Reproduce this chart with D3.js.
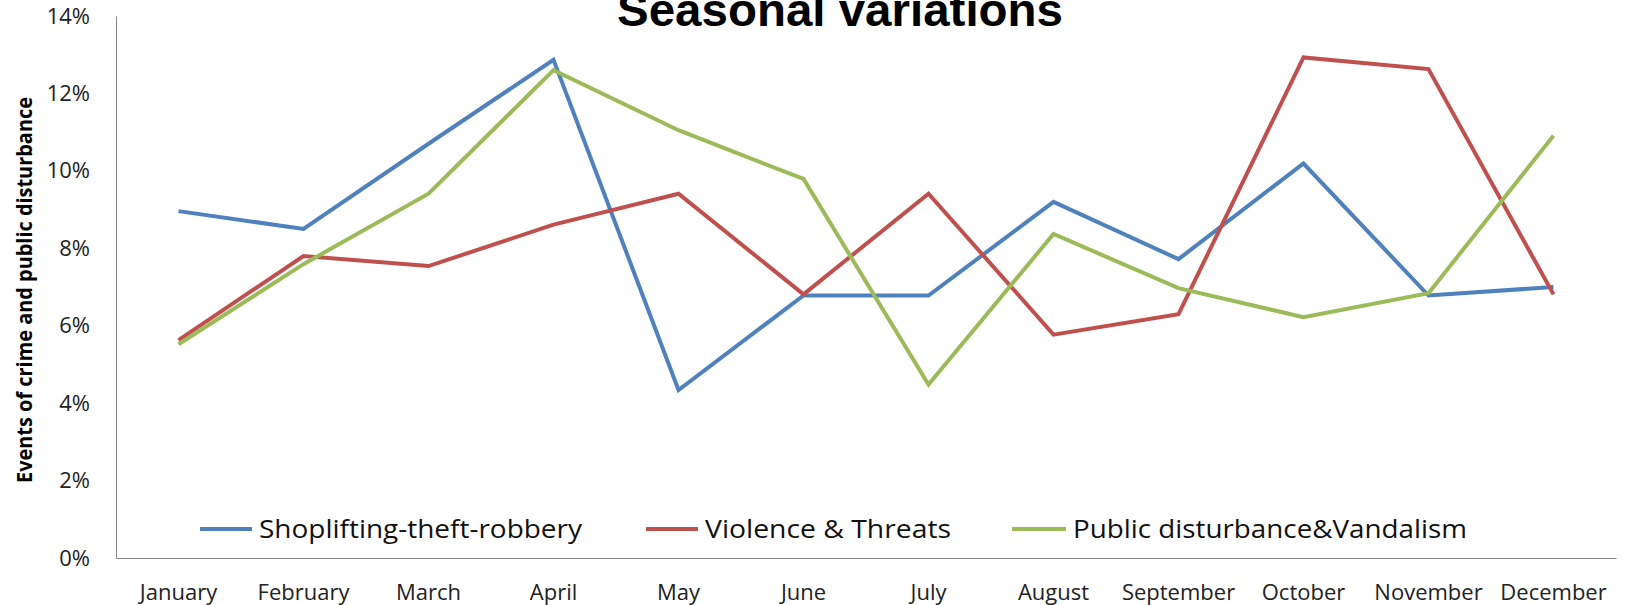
<!DOCTYPE html>
<html>
<head>
<meta charset="utf-8">
<script src="https://cdn.jsdelivr.net/npm/d3@7/dist/d3.min.js"></script>
<style>
  html, body { margin: 0; padding: 0; background: #fff; }
  svg { display: block; }
</style>
</head>
<body>
<svg id="chart" width="1629" height="605"></svg>
<script>
// Monthly share of incidents per category
const months = ["January", "February", "March", "April", "May", "June",
                "July", "August", "September", "October", "November", "December"];
const shoplifting = [0.0896, 0.0850, 0.1070, 0.1287, 0.0434, 0.0678,
                     0.0678, 0.0920, 0.0772, 0.1019, 0.0678, 0.0700];
const violence    = [0.0563, 0.0780, 0.0754, 0.0861, 0.0941, 0.0681,
                     0.0941, 0.0577, 0.0630, 0.1293, 0.1263, 0.0681];
const disturbance = [0.0552, 0.0759, 0.0941, 0.1260, 0.1105, 0.0979,
                     0.0448, 0.0837, 0.0697, 0.0622, 0.0684, 0.1091];
const seriesNames = ["Shoplifting-theft-robbery", "Violence & Threats", "Public disturbance&Vandalism"];
const seriesColors = ["#4F81BD", "#C0504D", "#9BBB59"];
const yTicks = [0, 0.02, 0.04, 0.06, 0.08, 0.10, 0.12, 0.14];

const series = [shoplifting, violence, disturbance].map((values, i) => ({
  name: seriesNames[i], color: seriesColors[i], values
}));

const svg = d3.select("#chart");
const plot = { left: 116, right: 1616, top: 16, bottom: 558 };

const x = d3.scaleBand().domain(months).range([plot.left, plot.right]).padding(0);
const y = d3.scaleLinear().domain([0, 0.14]).range([plot.bottom, plot.top]);
const cx = m => x(m) + x.bandwidth() / 2;

const tickFont = "'Open Sans', sans-serif";

// Y axis
const yAxis = svg.append("g")
  .attr("transform", `translate(${plot.left},0)`)
  .call(d3.axisLeft(y).tickValues(yTicks).tickFormat(d3.format(".0%"))
        .tickSize(0).tickSizeOuter(0).tickPadding(26));
yAxis.select(".domain").attr("stroke", "#868686").attr("stroke-width", 1);
yAxis.selectAll("text")
  .attr("font-family", tickFont).attr("font-size", 22).attr("fill", "#222");

// X axis
const xAxis = svg.append("g")
  .attr("transform", `translate(0,${plot.bottom})`)
  .call(d3.axisBottom(x).tickSize(0).tickSizeOuter(0).tickPadding(26));
xAxis.select(".domain").attr("stroke", "#868686").attr("stroke-width", 1);
xAxis.selectAll("text")
  .attr("font-family", tickFont).attr("font-size", 22).attr("fill", "#222");

// Series lines
const line = d3.line().x((d, i) => cx(months[i])).y(d => y(d));
svg.append("g").selectAll("path")
  .data(series)
  .join("path")
  .attr("d", d => line(d.values))
  .attr("fill", "none")
  .attr("stroke", d => d.color)
  .attr("stroke-width", 4)
  .attr("stroke-linejoin", "miter");

// Title
svg.append("text")
  .attr("x", 840).attr("y", 26)
  .attr("text-anchor", "middle")
  .attr("font-family", "'Liberation Sans', Arial, sans-serif")
  .attr("font-weight", "bold")
  .attr("font-size", 47)
  .attr("textLength", 446)
  .attr("lengthAdjust", "spacingAndGlyphs")
  .text("Seasonal variations");

// Y axis title
svg.append("text")
  .attr("transform", "translate(32,290) rotate(-90)")
  .attr("text-anchor", "middle")
  .attr("font-family", tickFont)
  .attr("font-weight", "bold")
  .attr("font-size", 21)
  .attr("textLength", 386)
  .attr("lengthAdjust", "spacingAndGlyphs")
  .text("Events of crime and public disturbance");

// Legend
const legendItems = [
  { x0: 200, x1: 252, textWidth: 323 },
  { x0: 646, x1: 698, textWidth: 246 },
  { x0: 1012, x1: 1066, textWidth: 394 }
];
const legend = svg.append("g");
series.forEach((s, i) => {
  const L = legendItems[i];
  legend.append("line")
    .attr("x1", L.x0).attr("x2", L.x1)
    .attr("y1", 529).attr("y2", 529)
    .attr("stroke", s.color).attr("stroke-width", 4);
  legend.append("text")
    .attr("x", L.x1 + 7).attr("y", 538)
    .attr("font-family", tickFont)
    .attr("font-size", 25)
    .attr("fill", "#111")
    .attr("textLength", L.textWidth)
    .attr("lengthAdjust", "spacingAndGlyphs")
    .text(s.name);
});
</script>
</body>
</html>
